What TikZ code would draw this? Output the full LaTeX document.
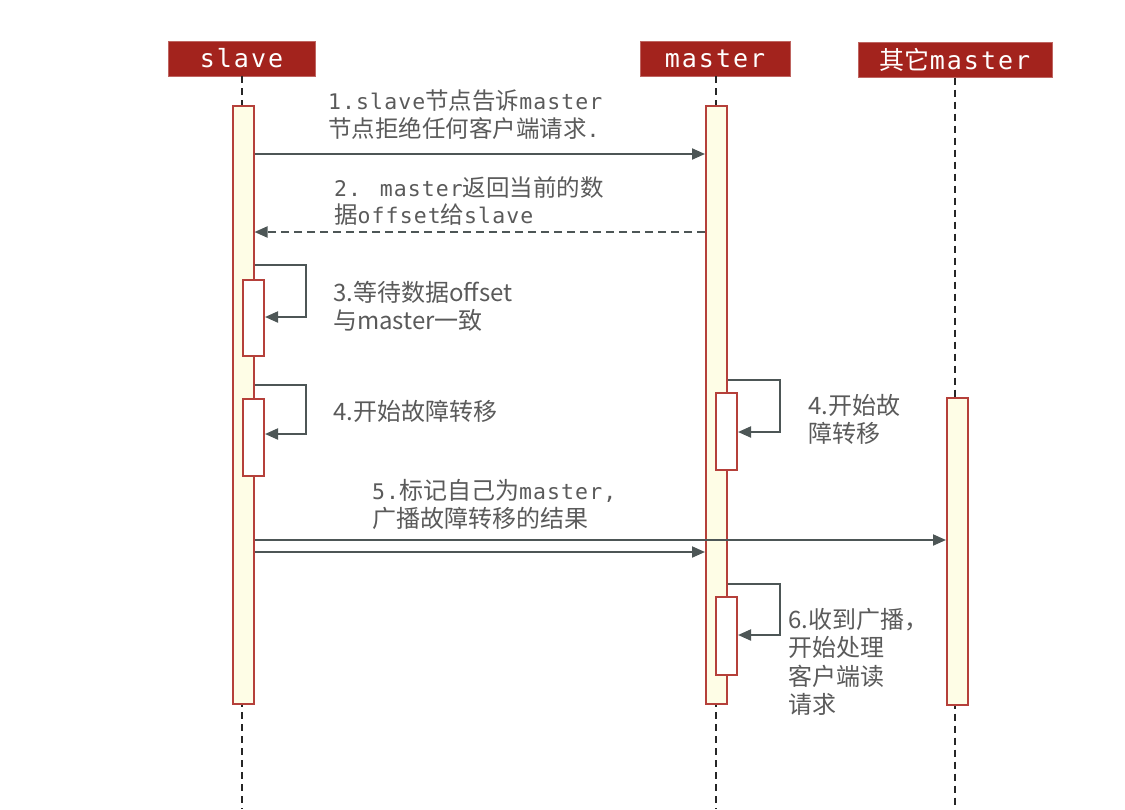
\documentclass[tikz,border=0pt]{standalone}
\usepackage{fontspec}
\setmainfont{Noto Sans CJK SC}
\newfontfamily\monofam[LetterSpace=5]{DejaVu Sans Mono}
\newfontfamily\headmono[LetterSpace=8]{DejaVu Sans Mono}
\newcommand\mt[1]{{\fontsize{21.5}{28}\monofam #1}}
\usetikzlibrary{arrows.meta, positioning}
\definecolor{headred}{HTML}{A3231D}
\definecolor{barred}{HTML}{B5403A}
\definecolor{barfill}{HTML}{FEFDE6}
\definecolor{msggray}{HTML}{4D5656}
\definecolor{txtgray}{HTML}{5A5A5A}

\tikzset{
  head/.style={fill=headred, draw=headred!70, text=white, minimum height=35pt,
               inner sep=0pt, font=\fontsize{25}{28}\selectfont},
  lifeline/.style={dash pattern=on 7pt off 5pt, line width=1.1pt, black!85},
  actbar/.style={draw=barred, fill=barfill, line width=2pt, minimum width=21pt, inner sep=0pt},
  subbar/.style={draw=barred, fill=white, line width=2pt, minimum width=21pt, inner sep=0pt},
  msg/.style={-{Triangle[length=13pt,width=11pt]}, line width=2pt, msggray},
  lbl/.style={anchor=north west, inner sep=0pt, align=left, text=txtgray},
}

\begin{document}
\begin{tikzpicture}[x=1pt, y=-1pt]
  \useasboundingbox (0,0) rectangle (1125,809);
  % Heads
  \node[head, minimum width=147pt] (slave) at (241.5,58.5) {\headmono slave};
  \node[head, minimum width=150pt] (master) at (715,58.5) {\headmono master};
  \node[head, minimum width=194pt] (other) at (955,60) {其它{\headmono master}};
  % Lifelines
  \coordinate (slaveend) at (242,809);
  \coordinate (masterend) at (716,809);
  \coordinate (otherend) at (955,809);
  \draw[lifeline] (slave.south -| slaveend) -- (slaveend);
  \draw[lifeline] (master.south -| masterend) -- (masterend);
  \draw[lifeline] (other.south -| otherend) -- (otherend);
  % Activation bars
  \node[actbar, minimum height=598pt] (sbar) at (243,405) {};
  \node[actbar, minimum height=598pt] (mbar) at (716.5,405) {};
  \node[actbar, minimum height=307pt] (obar) at (957.5,551.5) {};
  \node[subbar, minimum height=76pt] (ssub1) at (253.5,318) {};
  \node[subbar, minimum height=77pt] (ssub2) at (253.5,437.5) {};
  \node[subbar, minimum height=77pt] (msub1) at (726.5,431.5) {};
  \node[subbar, minimum height=78pt] (msub2) at (726.5,636) {};
  % Messages
  \draw[msg] (sbar.east |- 0,154) -- (mbar.west |- 0,154);
  \draw[msg, dash pattern=on 8pt off 5pt] (mbar.west |- 0,232) -- (sbar.east |- 0,232);
  \draw[msg] (sbar.east |- 0,265) -| (306,317) -- (ssub1.east |- 0,317);
  \draw[msg] (sbar.east |- 0,385) -| (306,434) -- (ssub2.east |- 0,434);
  \draw[msg] (mbar.east |- 0,380) -| (780,432) -- (msub1.east |- 0,432);
  \draw[msg] (sbar.east |- 0,540) -- (obar.west |- 0,540);
  \draw[msg] (sbar.east |- 0,552) -- (mbar.west |- 0,552);
  \draw[msg] (mbar.east |- 0,584) -| (780,635) -- (msub2.east |- 0,635);
  % Labels
  \node[lbl, font=\fontsize{23.5}{28}\selectfont] (l1) at (328,90)
    {\mt{1.slave}节点告诉\mt{master}\\节点拒绝任何客户端请求\mt{.}};
  \node[lbl, font=\fontsize{23.5}{27}\selectfont] (l2) at (334,176)
    {\mt{2. master}返回当前的数\\据\mt{offset}给\mt{slave}};
  \node[lbl, font=\fontsize{24}{28}\selectfont] (l3) at (333,281)
    {3.等待数据offset\\与master一致};
  \node[lbl, font=\fontsize{24}{28}\selectfont] (l4a) at (333,400) {4.开始故障转移};
  \node[lbl, font=\fontsize{24}{28}\selectfont] (l4b) at (808,394) {4.开始故\\障转移};
  \node[lbl, font=\fontsize{24}{28}\selectfont] (l5) at (372,479)
    {\mt{5.}标记自己为\mt{master,}\\广播故障转移的结果};
  \node[lbl, font=\fontsize{24}{28.5}\selectfont] (l6) at (788,608)
    {6.收到广播，\\开始处理\\客户端读\\请求};
\end{tikzpicture}
\end{document}
